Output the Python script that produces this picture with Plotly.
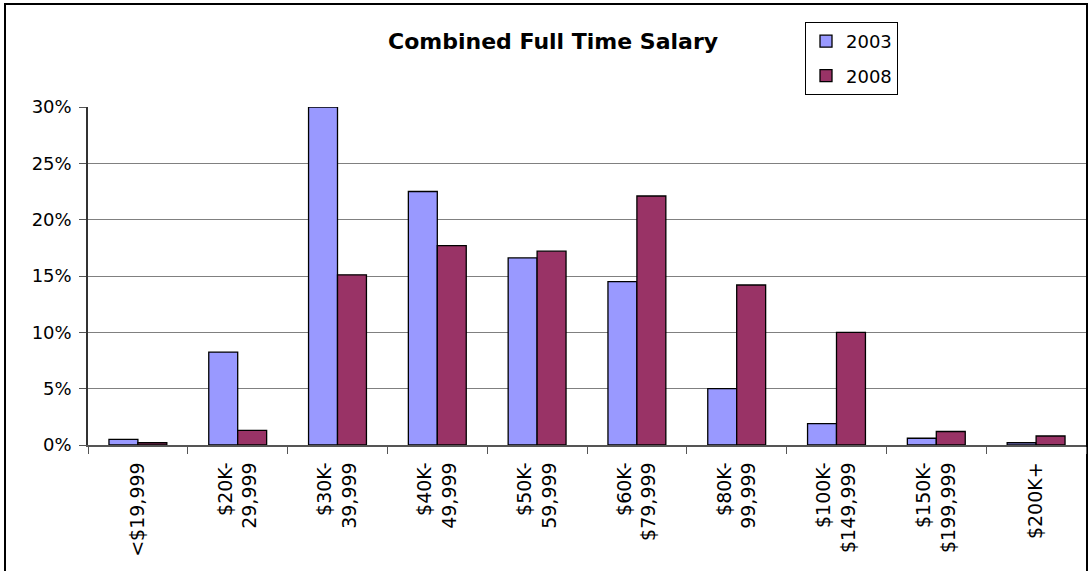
import plotly.graph_objects as go

categories = ['<$19,999', '$20K-<br>29,999', '$30K-<br>39,999', '$40K-<br>49,999', '$50K-<br>59,999',
              '$60K-<br>$79,999', '$80K-<br>99,999', '$100K-<br>$149,999', '$150K-<br>$199,999', '$200K+']
salary_2003 = [0.005, 0.0825, 0.300, 0.225, 0.166, 0.145, 0.050, 0.019, 0.006, 0.002]
salary_2008 = [0.002, 0.013, 0.151, 0.177, 0.172, 0.221, 0.142, 0.100, 0.012, 0.008]
y_ticks = [0, 0.05, 0.10, 0.15, 0.20, 0.25, 0.30]

font_family = 'DejaVu Sans, Arial, sans-serif'

fig = go.Figure()
fig.add_trace(go.Bar(x=categories, y=salary_2003, name='2003', legendgroup='a',
                     marker=dict(color='#9999FF', line=dict(color='black', width=1.3))))
fig.add_trace(go.Bar(x=categories, y=salary_2008, name='2008', legendgroup='b',
                     marker=dict(color='#993366', line=dict(color='black', width=1.3))))

# outer chart frame
fig.add_shape(type='rect', xref='paper', yref='paper',
              x0=(5 - 88) / 998, x1=(1087 - 88) / 998, y0=-0.5, y1=(445 - 4) / 338,
              line=dict(color='black', width=2), fillcolor='rgba(0,0,0,0)', layer='below')

fig.update_layout(
    width=1088, height=571,
    margin=dict(l=88, r=2, t=107, b=126),
    paper_bgcolor='white', plot_bgcolor='white',
    font=dict(family=font_family, size=17, color='black'),
    barmode='group', bargap=0.42, bargroupgap=0,
    title=dict(text='<b>Combined Full Time Salary</b>', x=0.466, xref='paper', xanchor='center',
               y=1 - 41 / 571, yanchor='middle', font=dict(size=22, family=font_family)),
    legend=dict(x=(805 - 88) / 998, y=(445 - 22) / 338, xanchor='left', yanchor='top',
                bordercolor='black', borderwidth=1, bgcolor='white',
                traceorder='grouped', tracegroupgap=8, font=dict(size=18), itemwidth=30),
    xaxis=dict(type='category', tickangle=-90, tickson='boundaries', ticks='outside', ticklen=7,
               tickcolor='#555555', showline=True, linecolor='#555555', linewidth=1.5,
               tickfont=dict(size=19), ticklabelstandoff=8),
    yaxis=dict(range=[0, 0.30], tickvals=y_ticks, tickformat='.0%', ticks='outside', ticklen=7,
               tickcolor='#555555', showline=True, linecolor='#333333', linewidth=1.5,
               showgrid=True, gridcolor='#808080', gridwidth=1.2, zeroline=False,
               tickfont=dict(size=18), ticklabelstandoff=4),
)

# the page body has a default 8px margin; drop it so the figure sits at the window origin
fig.write_html('out.html', config={'displayModeBar': False},
               post_script="document.body.style.margin='0';")
